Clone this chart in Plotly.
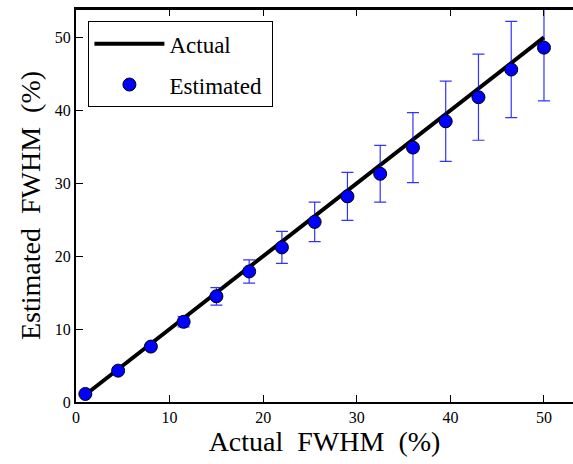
import plotly.graph_objects as go

actual_x = [1, 4.5, 8, 11.5, 15, 18.5, 22, 25.5, 29, 32.5, 36, 39.5, 43, 46.5, 50]
actual_line = [1, 50]
estimated = [1.1, 4.3, 7.6, 11.0, 14.5, 17.9, 21.2, 24.7, 28.2, 31.3, 34.9, 38.5, 41.8, 45.6, 48.6]
est_err = [0.1, 0.2, 0.3, 0.7, 1.2, 1.6, 2.2, 2.7, 3.3, 3.9, 4.8, 5.5, 5.9, 6.6, 7.3]

FONT = "Liberation Serif, Times New Roman, serif"

fig = go.Figure()
fig.add_trace(go.Scatter(
    x=[actual_x[0], actual_x[-1]], y=actual_line, mode="lines", name="Actual",
    legendgroup="a",
    line=dict(color="black", width=4),
))
fig.add_trace(go.Scatter(
    x=actual_x, y=estimated, mode="markers", name="Estimated\u00a0",
    legendgroup="b",
    marker=dict(color="blue", size=13, line=dict(color="black", width=1)),
    error_y=dict(type="data", array=est_err, visible=True,
                 color="rgba(0,0,255,0.8)", thickness=1.2, width=6),
))

fig.update_layout(
    width=573, height=464,
    margin=dict(l=76, r=0, t=9, b=62),
    plot_bgcolor="white", paper_bgcolor="white",
    font=dict(family=FONT, color="black", size=16),
    showlegend=True,
    legend=dict(x=0.025, y=0.969, xanchor="left", yanchor="top",
                bordercolor="black", borderwidth=1, bgcolor="white",
                font=dict(size=23, family=FONT), itemwidth=70,
                tracegroupgap=8),
    xaxis=dict(range=[0, 53.1], tickvals=[0, 10, 20, 30, 40, 50],
               showline=True, linecolor="black", linewidth=2, mirror="ticks",
               ticks="inside", ticklen=7, tickwidth=1, tickcolor="black",
               showgrid=False, zeroline=False,
               title=dict(text="Actual\u00a0\u00a0FWHM\u00a0\u00a0(%)",
                          font=dict(size=28, family=FONT), standoff=4)),
    yaxis=dict(range=[0, 53.9], tickvals=[0, 10, 20, 30, 40, 50],
               showline=True, linecolor="black", linewidth=2, mirror=False,
               ticks="inside", ticklen=7, tickwidth=1, tickcolor="black",
               showgrid=False, zeroline=False,
               title=dict(text="Estimated\u00a0\u00a0FWHM\u00a0\u00a0(%)",
                          font=dict(size=28, family=FONT), standoff=6)),
)
# top spine
fig.add_shape(type="line", xref="paper", yref="paper", x0=0, x1=1, y0=1, y1=1,
              line=dict(color="black", width=2))

fig.write_html("out.html")
